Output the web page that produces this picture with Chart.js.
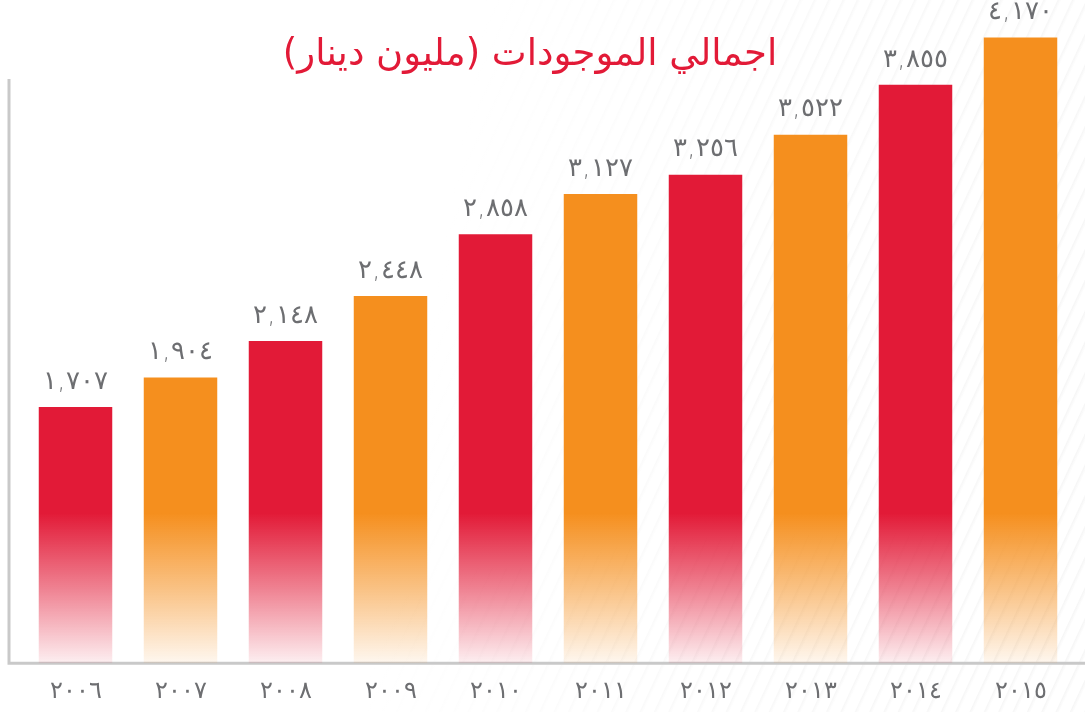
<!DOCTYPE html>
<html>
<head>
<meta charset="utf-8">
<script src="https://cdn.jsdelivr.net/npm/chart.js@4"></script>
<style>
  html, body { margin: 0; padding: 0; background: #fff; }
  #wrap { position: relative; width: 1085px; height: 712px; overflow: hidden;
    background:
      repeating-linear-gradient(115deg, rgba(0,0,0,0) 0px, rgba(0,0,0,0) 9px, rgba(200,200,200,0.18) 10px, rgba(0,0,0,0) 13px);
  }
  #wrap::before { content: ""; position: absolute; inset: 0;
    background: linear-gradient(100deg, #fff 0%, #fff 40%, rgba(255,255,255,0.35) 70%, rgba(255,255,255,0.1) 100%); }
  canvas { position: relative; }
</style>
</head>
<body>
<div id="wrap"><canvas id="assetsChart"></canvas></div>
<script>
// البيانات
var years = ['2006', '2007', '2008', '2009', '2010', '2011', '2012', '2013', '2014', '2015'];
var totals = [1707, 1904, 2148, 2448, 2858, 3127, 3256, 3522, 3855, 4170];
var barColors = ['#e21a37', '#f58f1e', '#e21a37', '#f58f1e', '#e21a37', '#f58f1e', '#e21a37', '#f58f1e', '#e21a37', '#f58f1e'];
var chartTitle = 'اجمالي الموجودات (مليون دينار)';

// أرقام هندية
function toArabicDigits(s) {
    return String(s).replace(/[0-9]/g, function(d) { return '٠١٢٣٤٥٦٧٨٩'[d]; });
}
function formatValue(v) {
    return toArabicDigits(v.toLocaleString('en-US'));
}
function hexToRgba(hex, a) {
    var n = parseInt(hex.slice(1), 16);
    return 'rgba(' + (n >> 16) + ',' + ((n >> 8) & 255) + ',' + (n & 255) + ',' + a + ')';
}

// خطوط المحاور والعنوان والقيم فوق الأعمدة
var decorations = {
    id: 'decorations',
    beforeDatasetsDraw: function(chart) {
        var c = chart.ctx, a = chart.chartArea;
        c.save();
        c.strokeStyle = '#c9c9c9';
        c.lineWidth = 3;
        c.beginPath();
        c.moveTo(a.left - 14, a.top + 76);
        c.lineTo(a.left - 14, a.bottom);
        c.lineTo(chart.width, a.bottom);
        c.stroke();
        c.restore();
    },
    afterDatasetsDraw: function(chart) {
        var c = chart.ctx, a = chart.chartArea;
        c.save();
        c.font = '300 26px "DejaVu Sans"';
        c.fillStyle = '#6d6e71';
        c.textAlign = 'center';
        c.textBaseline = 'bottom';
        chart.getDatasetMeta(0).data.forEach(function(bar, i) {
            c.fillText(formatValue(totals[i]), bar.x, bar.y - 12);
        });
        c.font = '37px "DejaVu Sans"';
        c.fillStyle = '#e21a37';
        c.direction = 'rtl';
        c.textBaseline = 'middle';
        c.fillText(chartTitle, 530, 55);
        c.restore();
    }
};

var ctx = document.getElementById('assetsChart').getContext('2d');
var assetsChart = new Chart(ctx, {
    type: 'bar',
    data: {
        labels: years.map(toArabicDigits),
        datasets: [{
            data: totals,
            backgroundColor: function(context) {
                var chart = context.chart, a = chart.chartArea;
                var base = barColors[context.dataIndex];
                if (!a) return base;
                var g = chart.ctx.createLinearGradient(0, a.bottom - 150, 0, a.bottom);
                g.addColorStop(0, base);
                g.addColorStop(0.5, hexToRgba(base, 0.55));
                g.addColorStop(1, hexToRgba(base, 0.07));
                return g;
            },
            borderWidth: 0,
            barPercentage: 0.7,
            categoryPercentage: 1
        }]
    },
    options: {
        responsive: true,
        maintainAspectRatio: false,
        animation: false,
        layout: { padding: { left: 23, right: 12, top: 3, bottom: 0 } },
        plugins: {
            legend: { display: false },
            tooltip: { enabled: false }
        },
        scales: {
            x: {
                grid: { display: false },
                border: { display: false },
                ticks: { color: '#6d6e71', font: { family: 'DejaVu Sans', size: 24, weight: '300' }, padding: 6 }
            },
            y: {
                display: false,
                beginAtZero: true,
                max: 4400
            }
        }
    },
    plugins: [decorations]
});
</script>
</body>
</html>
